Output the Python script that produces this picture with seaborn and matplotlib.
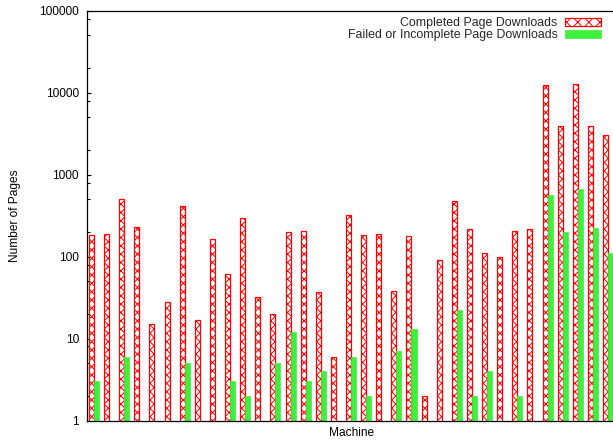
import numpy as np
import pandas as pd
import matplotlib
matplotlib.use("Agg")
import matplotlib.pyplot as plt
from matplotlib.patches import Patch
from matplotlib.ticker import LogLocator, NullFormatter, FixedLocator
import seaborn as sns

# ---- data ----
machines = [f"M{i+1}" for i in range(35)]
completed = [181, 190, 499, 227, 15, 28, 410, 17, 162, 61,
             292, 32, 20, 199, 204, 37, 6, 321, 181, 188,
             38, 176, 2, 90, 471, 214, 112, 100, 203, 214,
             12450, 3960, 12800, 3890, 3050]
failed = [3, 0, 6, 0, 0, 0, 5, 0, 0, 3,
          2, 0, 5, 12, 3, 4, 0, 6, 2, 0,
          7, 13, 0, 0, 22, 2, 4, 0, 2, 0,
          563, 199, 667, 222, 110]
series_names = ["Completed Page Downloads", "Failed or Incomplete Page Downloads"]
y_ticks = [1, 10, 100, 1000, 10000, 100000]
y_tick_labels = ["1", "10", "100", "1000", "10000", "100000"]

RED = "#ff0000"
GREEN = "#3cf03c"

sns.set_theme(style="white")
plt.rcParams["font.family"] = ["Liberation Sans", "DejaVu Sans"]
plt.rcParams["hatch.linewidth"] = 0.7

df = pd.DataFrame({
    "Machine": machines * 2,
    "Pages": [max(v, 1) for v in completed] + [max(v, 1) for v in failed],
    "Type": [series_names[0]] * len(machines) + [series_names[1]] * len(machines),
})

W, H = 613, 440
fig = plt.figure(figsize=(W / 100, H / 100), dpi=100)
ax_left, ax_right, ax_top, ax_bot = 87, 616.5, 10.7, 420.5
ax = fig.add_axes([ax_left / W, (H - ax_bot) / H,
                   (ax_right - ax_left) / W, (ax_bot - ax_top) / H])
ax.set_yscale("log")

sns.barplot(data=df, x="Machine", y="Pages", hue="Type",
            hue_order=series_names, palette=[RED, GREEN],
            width=2 / 3, gap=0, errorbar=None, legend=False,
            saturation=1, ax=ax)

# style bars
for p in ax.containers[0]:
    p.set_facecolor("white")
    p.set_edgecolor(RED)
    p.set_hatch("xxxx")
    p.set_linewidth(0.9)
for p in ax.containers[1]:
    p.set_facecolor(GREEN)
    p.set_edgecolor(GREEN)
    p.set_linewidth(0.5)

ax.set_ylim(1, 100000)
ax.set_xlim(-0.463, len(machines) - 1 + 0.56)

ax.yaxis.set_major_locator(FixedLocator(y_ticks))
ax.set_yticklabels(y_tick_labels)
ax.yaxis.set_minor_locator(LogLocator(base=10, subs=(2.0, 5.0, 8.0)))
ax.yaxis.set_minor_formatter(NullFormatter())
ax.tick_params(axis="y", which="major", direction="in", length=3.2, width=0.8,
               color="black", labelsize=8.6, pad=5.8, left=True, right=True,
               labelcolor="black")
ax.tick_params(axis="y", which="minor", direction="in", length=1.8, width=0.8,
               color="black", left=True, right=True)
ax.tick_params(axis="x", which="both", bottom=False, top=False, labelbottom=False)

for s in ax.spines.values():
    s.set_visible(True)
    s.set_color("black")
    s.set_linewidth(0.9)

ax.set_xlabel("Machine", fontsize=8.6, color="black")
ax.set_ylabel("Number of Pages", fontsize=8.6, color="black")
ax.xaxis.set_label_coords(0.5, -0.016)
ax.yaxis.set_label_coords(-0.125, 0.5)

handles = [
    Patch(facecolor="white", edgecolor=RED, hatch="xxx", linewidth=0.9),
    Patch(facecolor=GREEN, edgecolor=GREEN, linewidth=0.5),
]
leg = ax.legend(handles, series_names, loc="upper right",
                bbox_to_anchor=(601 / W, (H - 17) / H),
                bbox_transform=fig.transFigure,
                frameon=False, markerfirst=False, fontsize=8.9,
                handlelength=2.9, handleheight=0.6, handletextpad=0.6,
                labelspacing=0.0, borderpad=0, borderaxespad=0)

fig.savefig("out.png", dpi=100, facecolor="white")
